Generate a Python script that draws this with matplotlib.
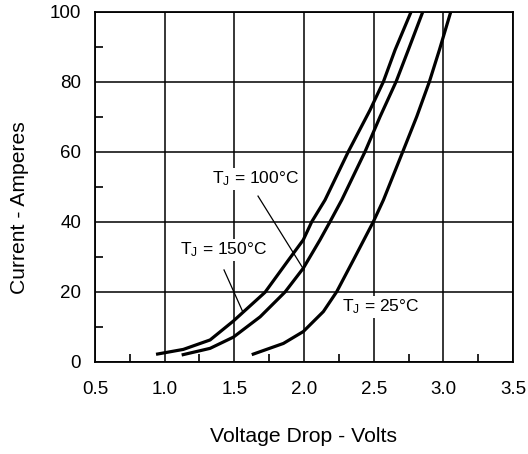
import matplotlib
matplotlib.use("Agg")
import matplotlib.pyplot as plt
from matplotlib.ticker import MultipleLocator

plt.rcParams['font.family'] = ['Liberation Sans', 'DejaVu Sans']
plt.rcParams['mathtext.fontset'] = 'custom'
plt.rcParams['mathtext.rm'] = 'Liberation Sans'
plt.rcParams['mathtext.it'] = 'Liberation Sans'

# Data
v_150 = [0.938, 1.134, 1.326, 1.493, 1.72, 1.888, 1.995, 2.056, 2.151, 2.318, 2.474, 2.57, 2.654, 2.768]
i_150 = [2.2, 3.6, 6.3, 11.7, 19.9, 29.1, 34.9, 40.1, 46.3, 60.1, 72.0, 80.1, 89.2, 100.0]
v_100 = [1.122, 1.326, 1.493, 1.685, 1.864, 1.995, 2.115, 2.187, 2.271, 2.438, 2.546, 2.661, 2.749, 2.852]
i_100 = [2.0, 3.9, 7.1, 12.9, 20.0, 26.8, 34.9, 40.1, 46.3, 60.1, 70.1, 80.1, 89.2, 100.0]
v_25 = [1.625, 1.852, 1.995, 2.139, 2.235, 2.354, 2.498, 2.57, 2.709, 2.809, 2.9, 2.972, 3.053]
i_25 = [2.1, 5.3, 8.7, 14.4, 20.1, 29.1, 40.1, 46.3, 60.1, 70.1, 80.1, 89.2, 100.0]

x_ticks = [0.5, 1.0, 1.5, 2.0, 2.5, 3.0, 3.5]
x_ticklabels = ["0.5", "1.0", "1.5", "2.0", "2.5", "3.0", "3.5"]
y_ticks = [0, 20, 40, 60, 80, 100]
y_ticklabels = ["0", "20", "40", "60", "80", "100"]

fig = plt.figure(figsize=(5.28, 4.54), dpi=100)
ax = fig.add_axes([95/528, (454-362)/454, (513-95)/528, (362-12)/454])
ax.set_xlim(0.5, 3.5)
ax.set_ylim(0, 100)

ax.set_xticks(x_ticks)
ax.set_xticklabels(x_ticklabels)
ax.set_yticks(y_ticks)
ax.set_yticklabels(y_ticklabels)
ax.xaxis.set_minor_locator(MultipleLocator(0.25))
ax.yaxis.set_minor_locator(MultipleLocator(10))
ax.tick_params(which='major', length=0, labelsize=13.5, pad=10)
ax.tick_params(axis='x', which='major', pad=14)
ax.tick_params(which='minor', direction='in', length=6, width=1.2, color='black')
ax.grid(True, which='major', color='black', linewidth=1.1)
ax.set_axisbelow(True)
for s in ax.spines.values():
    s.set_linewidth(1.3)
    s.set_color('black')

lw = 2.3
ax.plot(v_150, i_150, color='black', lw=lw, zorder=3, solid_capstyle='butt', solid_joinstyle='round')
ax.plot(v_100, i_100, color='black', lw=lw, zorder=3, solid_capstyle='butt', solid_joinstyle='round')
ax.plot(v_25, i_25, color='black', lw=lw, zorder=3, solid_capstyle='butt', solid_joinstyle='round')

bbox = dict(facecolor='white', edgecolor='none', pad=1.5)
ax.text(1.65, 52.3, r"T$_\mathrm{J}$ = 100°C", ha='center', va='center', fontsize=12.5, bbox=bbox, zorder=2)
ax.text(1.42, 32.0, r"T$_\mathrm{J}$ = 150°C", ha='center', va='center', fontsize=12.5, bbox=bbox, zorder=2)
ax.text(2.553, 15.7, r"T$_\mathrm{J}$ = 25°C", ha='center', va='center', fontsize=12.5, bbox=bbox, zorder=2)

ax.plot([1.67, 2.0], [47.4, 26.3], color='black', lw=0.9, zorder=2.5)
ax.plot([1.426, 1.56], [26.3, 14.4], color='black', lw=0.9, zorder=2.5)

fig.text(304/528, 1 - 437/454, "Voltage Drop - Volts", ha='center', va='center', fontsize=15.2)
fig.text(20/528, 1 - 208/454, "Current - Amperes", ha='center', va='center', fontsize=15.2, rotation=90)

fig.savefig("out.png", dpi=100)
